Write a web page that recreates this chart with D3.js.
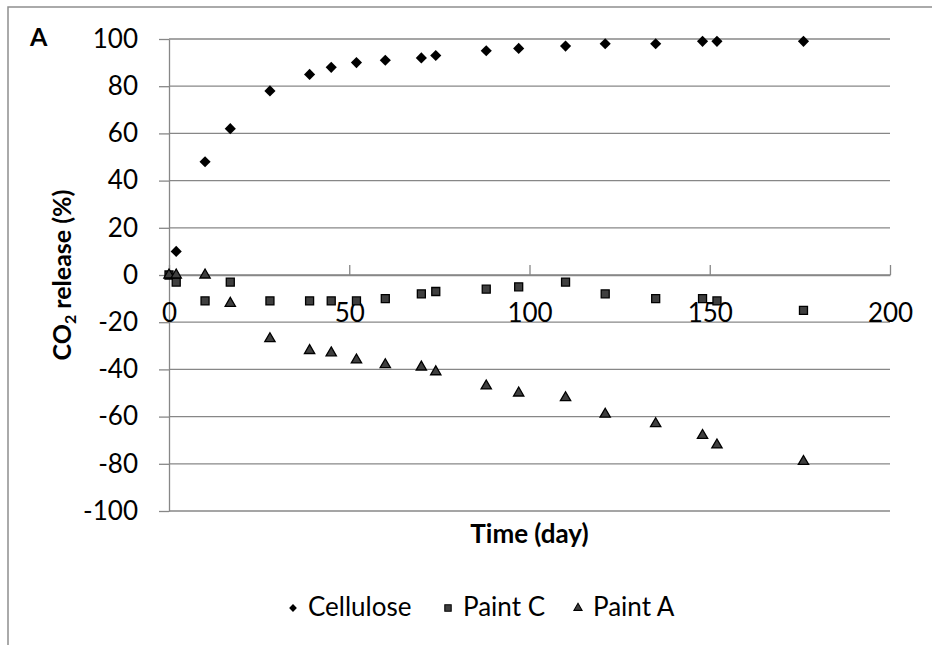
<!DOCTYPE html>
<html>
<head>
<meta charset="utf-8">
<script src="https://cdn.jsdelivr.net/npm/d3@7"></script>
<style>
  html, body { margin: 0; padding: 0; background: #fff; }
  svg { display: block; }
  text { font-family: Lato, "Open Sans", sans-serif; }
</style>
</head>
<body>
<svg id="chart" width="932" height="645"></svg>
<script>
// ---- data ----
const days = [0, 2, 10, 17, 28, 39, 45, 52, 60, 70, 74, 88, 97, 110, 121, 135, 148, 152, 176];
const celluloseDays = [2, 10, 17, 28, 39, 45, 52, 60, 70, 74, 88, 97, 110, 121, 135, 148, 152, 176];
const cellulose = [10, 48, 62, 78, 85, 88, 90, 91, 92, 93, 95, 96, 97, 98, 98, 99, 99, 99];
const paintC = [0, -3, -11, -3, -11, -11, -11, -11, -10, -8, -7, -6, -5, -3, -8, -10, -10, -11, -15];
const paintA = [0, 0, 0, -12, -27, -32, -33, -36, -38, -39, -41, -47, -50, -52, -59, -63, -68, -72, -79];
const xTicks = [0, 50, 100, 150, 200];
const yTicks = [-100, -80, -60, -40, -20, 0, 20, 40, 60, 80, 100];
const seriesNames = ["Cellulose", "Paint C", "Paint A"];

const svg = d3.select("#chart");
const gridColor = "#878787";

// outer chart border
svg.append("rect")
  .attr("x", 8).attr("y", 7)
  .attr("width", 940).attr("height", 660)
  .attr("fill", "none").attr("stroke", "#8f8f8f").attr("stroke-width", 1.5);

const x = d3.scaleLinear().domain([0, 200]).range([169, 890]);
const y = d3.scaleLinear().domain([-100, 100]).range([511, 39]);

// gridlines
svg.append("g").selectAll("line").data(yTicks).join("line")
  .attr("x1", x(0)).attr("x2", x(200))
  .attr("y1", d => y(d)).attr("y2", d => y(d))
  .attr("stroke", gridColor).attr("stroke-width", 1.3);

// y axis
const yAxis = svg.append("g").attr("transform", `translate(${x(0)},0)`)
  .call(d3.axisLeft(y).tickValues(yTicks).tickSize(10).tickSizeOuter(0).tickPadding(21)
    .tickFormat(d => d));
yAxis.selectAll("path, line").attr("stroke", gridColor).attr("stroke-width", 1.3);
yAxis.selectAll("text").attr("font-size", 26).attr("fill", "#000")
  .attr("font-family", "Lato, 'Open Sans', sans-serif");

// x axis at y=0, ticks pointing up, labels below
const xAxis = svg.append("g").attr("transform", `translate(0,${y(0)})`)
  .call(d3.axisBottom(x).tickValues(xTicks).tickSize(-10).tickSizeOuter(0).tickPadding(29));
xAxis.selectAll("path, line").attr("stroke", gridColor).attr("stroke-width", 1.3);
xAxis.selectAll("text").attr("font-size", 26).attr("fill", "#000")
  .attr("font-family", "Lato, 'Open Sans', sans-serif");

// markers
const diamond = d3.symbol(d3.symbolSquare, 62);
const square = d3.symbol(d3.symbolSquare, 64);
const triangle = d3.symbol(d3.symbolTriangle, 46);

svg.append("g").selectAll("path").data(celluloseDays.map((d, i) => [d, cellulose[i]])).join("path")
  .attr("d", diamond)
  .attr("transform", d => `translate(${x(d[0])},${y(d[1])}) rotate(45)`)
  .attr("fill", "#000");

svg.append("g").selectAll("path").data(days.map((d, i) => [d, paintC[i]])).join("path")
  .attr("d", square)
  .attr("transform", d => `translate(${x(d[0])},${y(d[1])})`)
  .attr("fill", "#3f3f3f").attr("stroke", "#000").attr("stroke-width", 1.3);

svg.append("g").selectAll("path").data(days.map((d, i) => [d, paintA[i]])).join("path")
  .attr("d", triangle)
  .attr("transform", d => `translate(${x(d[0])},${y(d[1])})`)
  .attr("fill", "#3f3f3f").attr("stroke", "#000").attr("stroke-width", 1.3);

// axis titles
svg.append("text")
  .attr("x", (x(0) + x(200)) / 2).attr("y", 543)
  .attr("text-anchor", "middle").attr("font-size", 26).attr("font-weight", "bold")
  .text("Time (day)");

const yt = svg.append("text")
  .attr("transform", `translate(71,${(y(-100) + y(100)) / 2}) rotate(-90)`)
  .attr("text-anchor", "middle").attr("font-size", 25).attr("font-weight", "bold");
yt.append("tspan").text("CO");
yt.append("tspan").attr("font-size", 16).attr("dy", 5).text("2");
yt.append("tspan").attr("dy", -5).text(" release (%)");

// panel label
svg.append("text").attr("x", 30).attr("y", 46)
  .attr("font-size", 25).attr("font-weight", "bold").text("A");

// legend
const legendItems = [
  { name: seriesNames[0], sym: diamond, rot: 45, mx: 293, tx: 308, fill: "#000", stroke: "none", scale: 0.7 },
  { name: seriesNames[1], sym: square, rot: 0, mx: 448, tx: 463, fill: "#3f3f3f", stroke: "#000", scale: 0.8 },
  { name: seriesNames[2], sym: triangle, rot: 0, mx: 578, tx: 593, fill: "#3f3f3f", stroke: "#000", scale: 0.8 }
];
const lg = svg.append("g");
legendItems.forEach(it => {
  lg.append("path").attr("d", it.sym)
    .attr("transform", `translate(${it.mx},608) rotate(${it.rot}) scale(${it.scale})`)
    .attr("fill", it.fill).attr("stroke", it.stroke).attr("stroke-width", 1.3);
  lg.append("text").attr("x", it.tx).attr("y", 616)
    .attr("font-size", 26).attr("fill", "#000").text(it.name);
});
</script>
</body>
</html>
